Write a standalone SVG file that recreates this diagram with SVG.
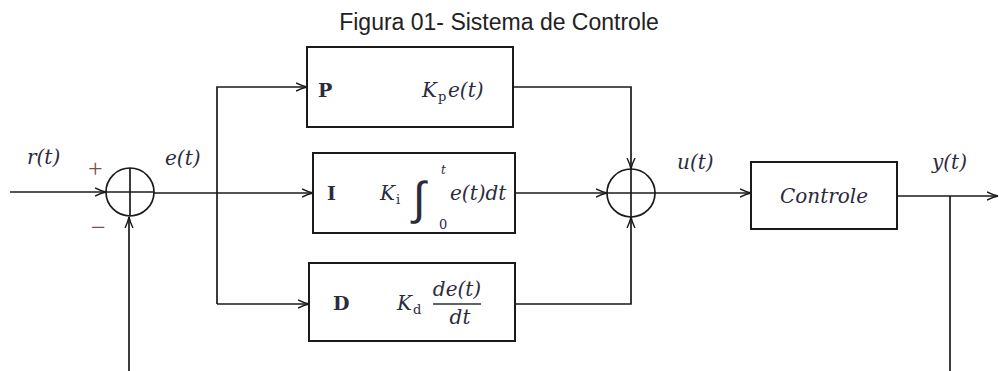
<svg xmlns="http://www.w3.org/2000/svg" width="999" height="371" viewBox="0 0 999 371">
<style>
.ln{stroke:#1a1a1a;stroke-width:1.7;fill:none}
.bx{stroke:#1a1a1a;stroke-width:2;fill:#fff}
.m{font-family:"DejaVu Serif","Liberation Serif",serif;font-style:italic;font-size:20px;fill:#2b2b40}
.b{font-family:"DejaVu Serif","Liberation Serif",serif;font-weight:bold;font-size:19px;fill:#2b2b40}
.sub{font-family:"DejaVu Serif","Liberation Serif",serif;font-style:normal;font-size:13px;fill:#2b2b40}
.sg{font-family:"Liberation Serif","DejaVu Serif",serif;font-size:26px;fill:#7a5050}
.t{font-family:"Liberation Sans",Arial,sans-serif;font-size:23px;fill:#222}
</style>
<defs>
<marker id="ah" viewBox="0 0 12 10" refX="11" refY="5" markerWidth="12" markerHeight="10" markerUnits="userSpaceOnUse" orient="auto">
<path d="M0,1 Q6,4 11,5 Q6,6 0,9" fill="none" stroke="#1a1a1a" stroke-width="1.4"/>
</marker>
</defs>
<text class="t" x="499" y="30" text-anchor="middle">Figura 01- Sistema de Controle</text>

<g id="connectors">
<line class="ln" x1="10" y1="192" x2="106" y2="192" marker-end="url(#ah)"/>
<line class="ln" x1="129" y1="371" x2="129" y2="217" marker-end="url(#ah)"/>
<line class="ln" x1="154" y1="193" x2="217" y2="193"/>
<polyline class="ln" points="217,304 217,87 307,87" marker-end="url(#ah)"/>
<line class="ln" x1="217" y1="193" x2="313" y2="193" marker-end="url(#ah)"/>
<line class="ln" x1="217" y1="304" x2="309" y2="304" marker-end="url(#ah)"/>
<polyline class="ln" points="513,87 631,87 631,169" marker-end="url(#ah)"/>
<line class="ln" x1="515" y1="193" x2="607" y2="193" marker-end="url(#ah)"/>
<polyline class="ln" points="515,304 631,304 631,217" marker-end="url(#ah)"/>
<line class="ln" x1="655" y1="193" x2="751" y2="193" marker-end="url(#ah)"/>
<line class="ln" x1="897" y1="196" x2="998" y2="196" marker-end="url(#ah)"/>
<line class="ln" x1="950" y1="196" x2="950" y2="371"/>
</g>

<g id="sum1">
<circle cx="130" cy="192" r="24" class="ln"/>
<line class="ln" x1="106" y1="192" x2="154" y2="192"/>
<line class="ln" x1="130" y1="168" x2="130" y2="216"/>
<text class="sg" x="88" y="177">+</text>
<text class="sg" x="91" y="236">−</text>
</g>

<g id="labels">
<text class="m" x="27" y="164">r(t)</text>
<text class="m" x="165" y="165">e(t)</text>
<text class="m" x="677" y="169">u(t)</text>
<text class="m" x="932" y="169">y(t)</text>
</g>

<g id="P">
<rect class="bx" x="307" y="47" width="206" height="80"/>
<text class="b" x="318" y="97">P</text>
<text class="m" x="422" y="97">K</text>
<text class="sub" x="438" y="101">p</text>
<text class="m" x="448" y="97">e(t)</text>
</g>

<g id="I">
<rect class="bx" x="313" y="153" width="202" height="80"/>
<text class="b" x="327" y="200">I</text>
<text class="m" x="380" y="200">K</text>
<text class="sub" x="396" y="204">i</text>
<text x="413" y="214" style="font-family:'DejaVu Sans',sans-serif;font-weight:200;font-size:46px;fill:#2b2b40">∫</text>
<text class="m" x="441" y="174" style="font-size:12px">t</text>
<text class="sub" x="439" y="229">0</text>
<text class="m" x="450" y="200">e(t)dt</text>
</g>

<g id="D">
<rect class="bx" x="309" y="263" width="206" height="78"/>
<text class="b" x="333" y="310">D</text>
<text class="m" x="397" y="310">K</text>
<text class="sub" x="413" y="314">d</text>
<text class="m" x="457" y="296" text-anchor="middle">de(t)</text>
<line x1="433" y1="304" x2="481" y2="304" stroke="#2b2b40" stroke-width="1.5"/>
<text class="m" x="460" y="324" text-anchor="middle">dt</text>
</g>

<g id="sum2">
<circle cx="631" cy="193" r="24" class="ln"/>
<line class="ln" x1="607" y1="193" x2="655" y2="193"/>
<line class="ln" x1="631" y1="169" x2="631" y2="217"/>
</g>

<g id="Controle">
<rect class="bx" x="751" y="162" width="146" height="67"/>
<text class="m" x="824" y="203" text-anchor="middle">Controle</text>
</g>
</svg>
